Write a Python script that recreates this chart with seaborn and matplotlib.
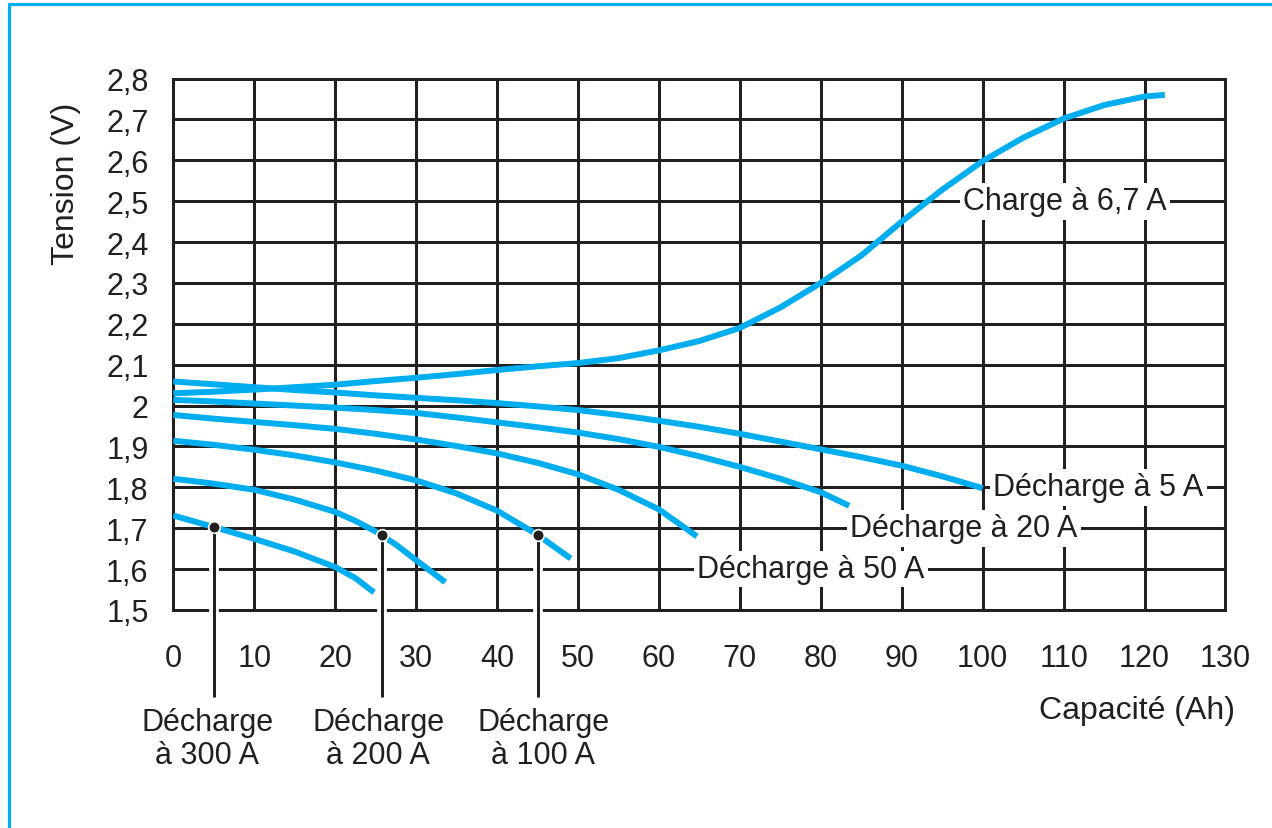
import numpy as np
import pandas as pd
import matplotlib
matplotlib.use("Agg")
import matplotlib.pyplot as plt
import seaborn as sns
from matplotlib import patheffects as pe
from matplotlib.lines import Line2D
from matplotlib.transforms import blended_transform_factory

# ---------------- data ----------------
charge_x = [0, 5, 10, 15, 20, 25, 30, 35, 40, 45, 50, 55, 60, 65, 70, 75, 80, 85, 90, 95, 100, 105, 110,
            115, 120, 122.5]
charge_y = [2.030, 2.034, 2.039, 2.045, 2.051, 2.060, 2.068, 2.077, 2.087, 2.096, 2.104, 2.116, 2.135, 2.158,
            2.190, 2.240, 2.300, 2.367, 2.450, 2.528, 2.598, 2.655, 2.702, 2.735, 2.756, 2.760]

d5_x = [0, 5, 10, 15, 20, 25, 30, 35, 40, 45, 50, 55, 60, 65, 70, 75, 80, 85, 90, 95, 100]
d5_y = [2.059, 2.052, 2.045, 2.038, 2.032, 2.025, 2.019, 2.013, 2.006, 1.998, 1.989, 1.977, 1.963, 1.948,
        1.931, 1.912, 1.893, 1.874, 1.853, 1.827, 1.798]

d20_x = [0, 5, 10, 15, 20, 25, 30, 35, 40, 45, 50, 55, 60, 65, 70, 75, 80, 83.5]
d20_y = [2.014, 2.010, 2.005, 2.000, 1.995, 1.989, 1.982, 1.971, 1.959, 1.947, 1.934, 1.918, 1.899, 1.876,
         1.850, 1.821, 1.788, 1.755]

d50_x = [0, 5, 10, 15, 20, 25, 30, 35, 40, 45, 50, 55, 60, 64.7]
d50_y = [1.977, 1.968, 1.960, 1.952, 1.943, 1.931, 1.917, 1.901, 1.883, 1.860, 1.832, 1.794, 1.746, 1.680]

d100_x = [0, 5, 10, 15, 20, 25, 30, 35, 40, 45, 49.1]
d100_y = [1.914, 1.904, 1.892, 1.878, 1.861, 1.841, 1.817, 1.785, 1.743, 1.684, 1.626]

d200_x = [0, 5, 10, 15, 20, 22.5, 25, 27.5, 30, 33.6]
d200_y = [1.821, 1.809, 1.794, 1.770, 1.740, 1.718, 1.692, 1.660, 1.622, 1.568]

d300_x = [0, 5, 10, 15, 20, 22.5, 24.8]
d300_y = [1.731, 1.703, 1.674, 1.643, 1.605, 1.578, 1.543]

dot_x = [5.0, 25.8, 45.1]
dot_y = [1.703, 1.684, 1.684]

x_ticks = list(range(0, 131, 10))
x_ticklabels = [str(v) for v in x_ticks]
y_ticks = [1.5, 1.6, 1.7, 1.8, 1.9, 2.0, 2.1, 2.2, 2.3, 2.4, 2.5, 2.6, 2.7, 2.8]
y_ticklabels = ["1,5", "1,6", "1,7", "1,8", "1,9", "2", "2,1", "2,2", "2,3", "2,4", "2,5", "2,6", "2,7", "2,8"]

right_labels = ["Charge à 6,7 A", "Décharge à 5 A", "Décharge à 20 A", "Décharge à 50 A"]
right_label_x = [97.6, 101.3, 83.6, 64.7]
right_label_y = [2.5, 1.8, 1.7, 1.6]

bottom_labels = ["Décharge\nà 300 A", "Décharge\nà 200 A", "Décharge\nà 100 A"]
bottom_label_x = [4.2, 25.3, 45.7]

# ---------------- build long table ----------------
series = {
    "charge": (charge_x, charge_y),
    "d5": (d5_x, d5_y),
    "d20": (d20_x, d20_y),
    "d50": (d50_x, d50_y),
    "d100": (d100_x, d100_y),
    "d200": (d200_x, d200_y),
    "d300": (d300_x, d300_y),
}
rows = []
for name, (xs, ys) in series.items():
    for xv, yv in zip(xs, ys):
        rows.append({"serie": name, "cap": xv, "volt": yv})
df = pd.DataFrame(rows)

BLUE = "#00aeef"
INK = "#231f20"
LW = 2.16

sns.set_theme(style="white")
plt.rcParams['font.family'] = ['Liberation Sans', 'DejaVu Sans']

fig = plt.figure(figsize=(12.72, 8.29), dpi=100)
fig.patch.set_facecolor("white")
ax = fig.add_axes([0.13624, 0.26297, 0.82720, 0.64113])

sns.lineplot(data=df, x="cap", y="volt", hue="serie", estimator=None, sort=False,
             palette={k: BLUE for k in series}, legend=False, linewidth=4.3, ax=ax, zorder=3,
             solid_capstyle="butt", solid_joinstyle="round")

ax.set_xlim(0, 130)
ax.set_ylim(1.5, 2.8)
ax.set_xticks(x_ticks)
ax.set_xticklabels(x_ticklabels)
ax.set_yticks(y_ticks)
ax.set_yticklabels(y_ticklabels)
ax.set_xlabel("")
ax.set_ylabel("")
ax.set_axisbelow(True)
ax.grid(True, color=INK, linewidth=LW)
for sp in ax.spines.values():
    sp.set_visible(True)
    sp.set_color(INK)
    sp.set_linewidth(LW)
ax.tick_params(axis="both", length=15.8, width=LW, color=INK, labelsize=22, labelcolor=INK,
               direction="out")
ax.tick_params(axis="x", pad=8)
ax.tick_params(axis="y", pad=2)

# leader lines with white halo
for xv, yv in zip(dot_x, dot_y):
    ax.plot([xv, xv], [yv, 1.287], color=INK, linewidth=LW, clip_on=False, zorder=4,
            solid_capstyle="butt",
            path_effects=[pe.Stroke(linewidth=7, foreground="white"), pe.Normal()])
sns.scatterplot(x=dot_x, y=dot_y, color=INK, s=70, edgecolor="white", linewidth=1.2,
                zorder=5, ax=ax, legend=False, clip_on=False)

# curve labels
for s, xv, yv in zip(right_labels, right_label_x, right_label_y):
    ax.text(xv, yv, s, ha="left", va="center", fontsize=22, color=INK, zorder=4.5,
            bbox=dict(facecolor="white", edgecolor="none", pad=2.5))

tr = blended_transform_factory(ax.transData, fig.transFigure)
for s, xv in zip(bottom_labels, bottom_label_x):
    ax.text(xv, 1 - 739.5 / 829, s, transform=tr, ha="center", va="center", fontsize=22,
            color=INK, linespacing=1.15, multialignment="center")

fig.text(66 / 1272, 1 - 184 / 829, "Tension (V)", rotation=90, ha="center", va="center",
         fontsize=23, color=INK)
fig.text(1235 / 1272, 1 - 711 / 829, "Capacité (Ah)", ha="right", va="center",
         fontsize=23, color=INK)

# blue frame (top and left edges)
fig.add_artist(Line2D([8.5 / 1272, 1.0], [1 - 4.5 / 829, 1 - 4.5 / 829], color=BLUE, linewidth=2.3,
                      transform=fig.transFigure))
fig.add_artist(Line2D([8.5 / 1272, 8.5 / 1272], [0, 1 - 4.5 / 829], color=BLUE, linewidth=2.3,
                      transform=fig.transFigure))

fig.savefig("out.png", dpi=100, facecolor="white")
